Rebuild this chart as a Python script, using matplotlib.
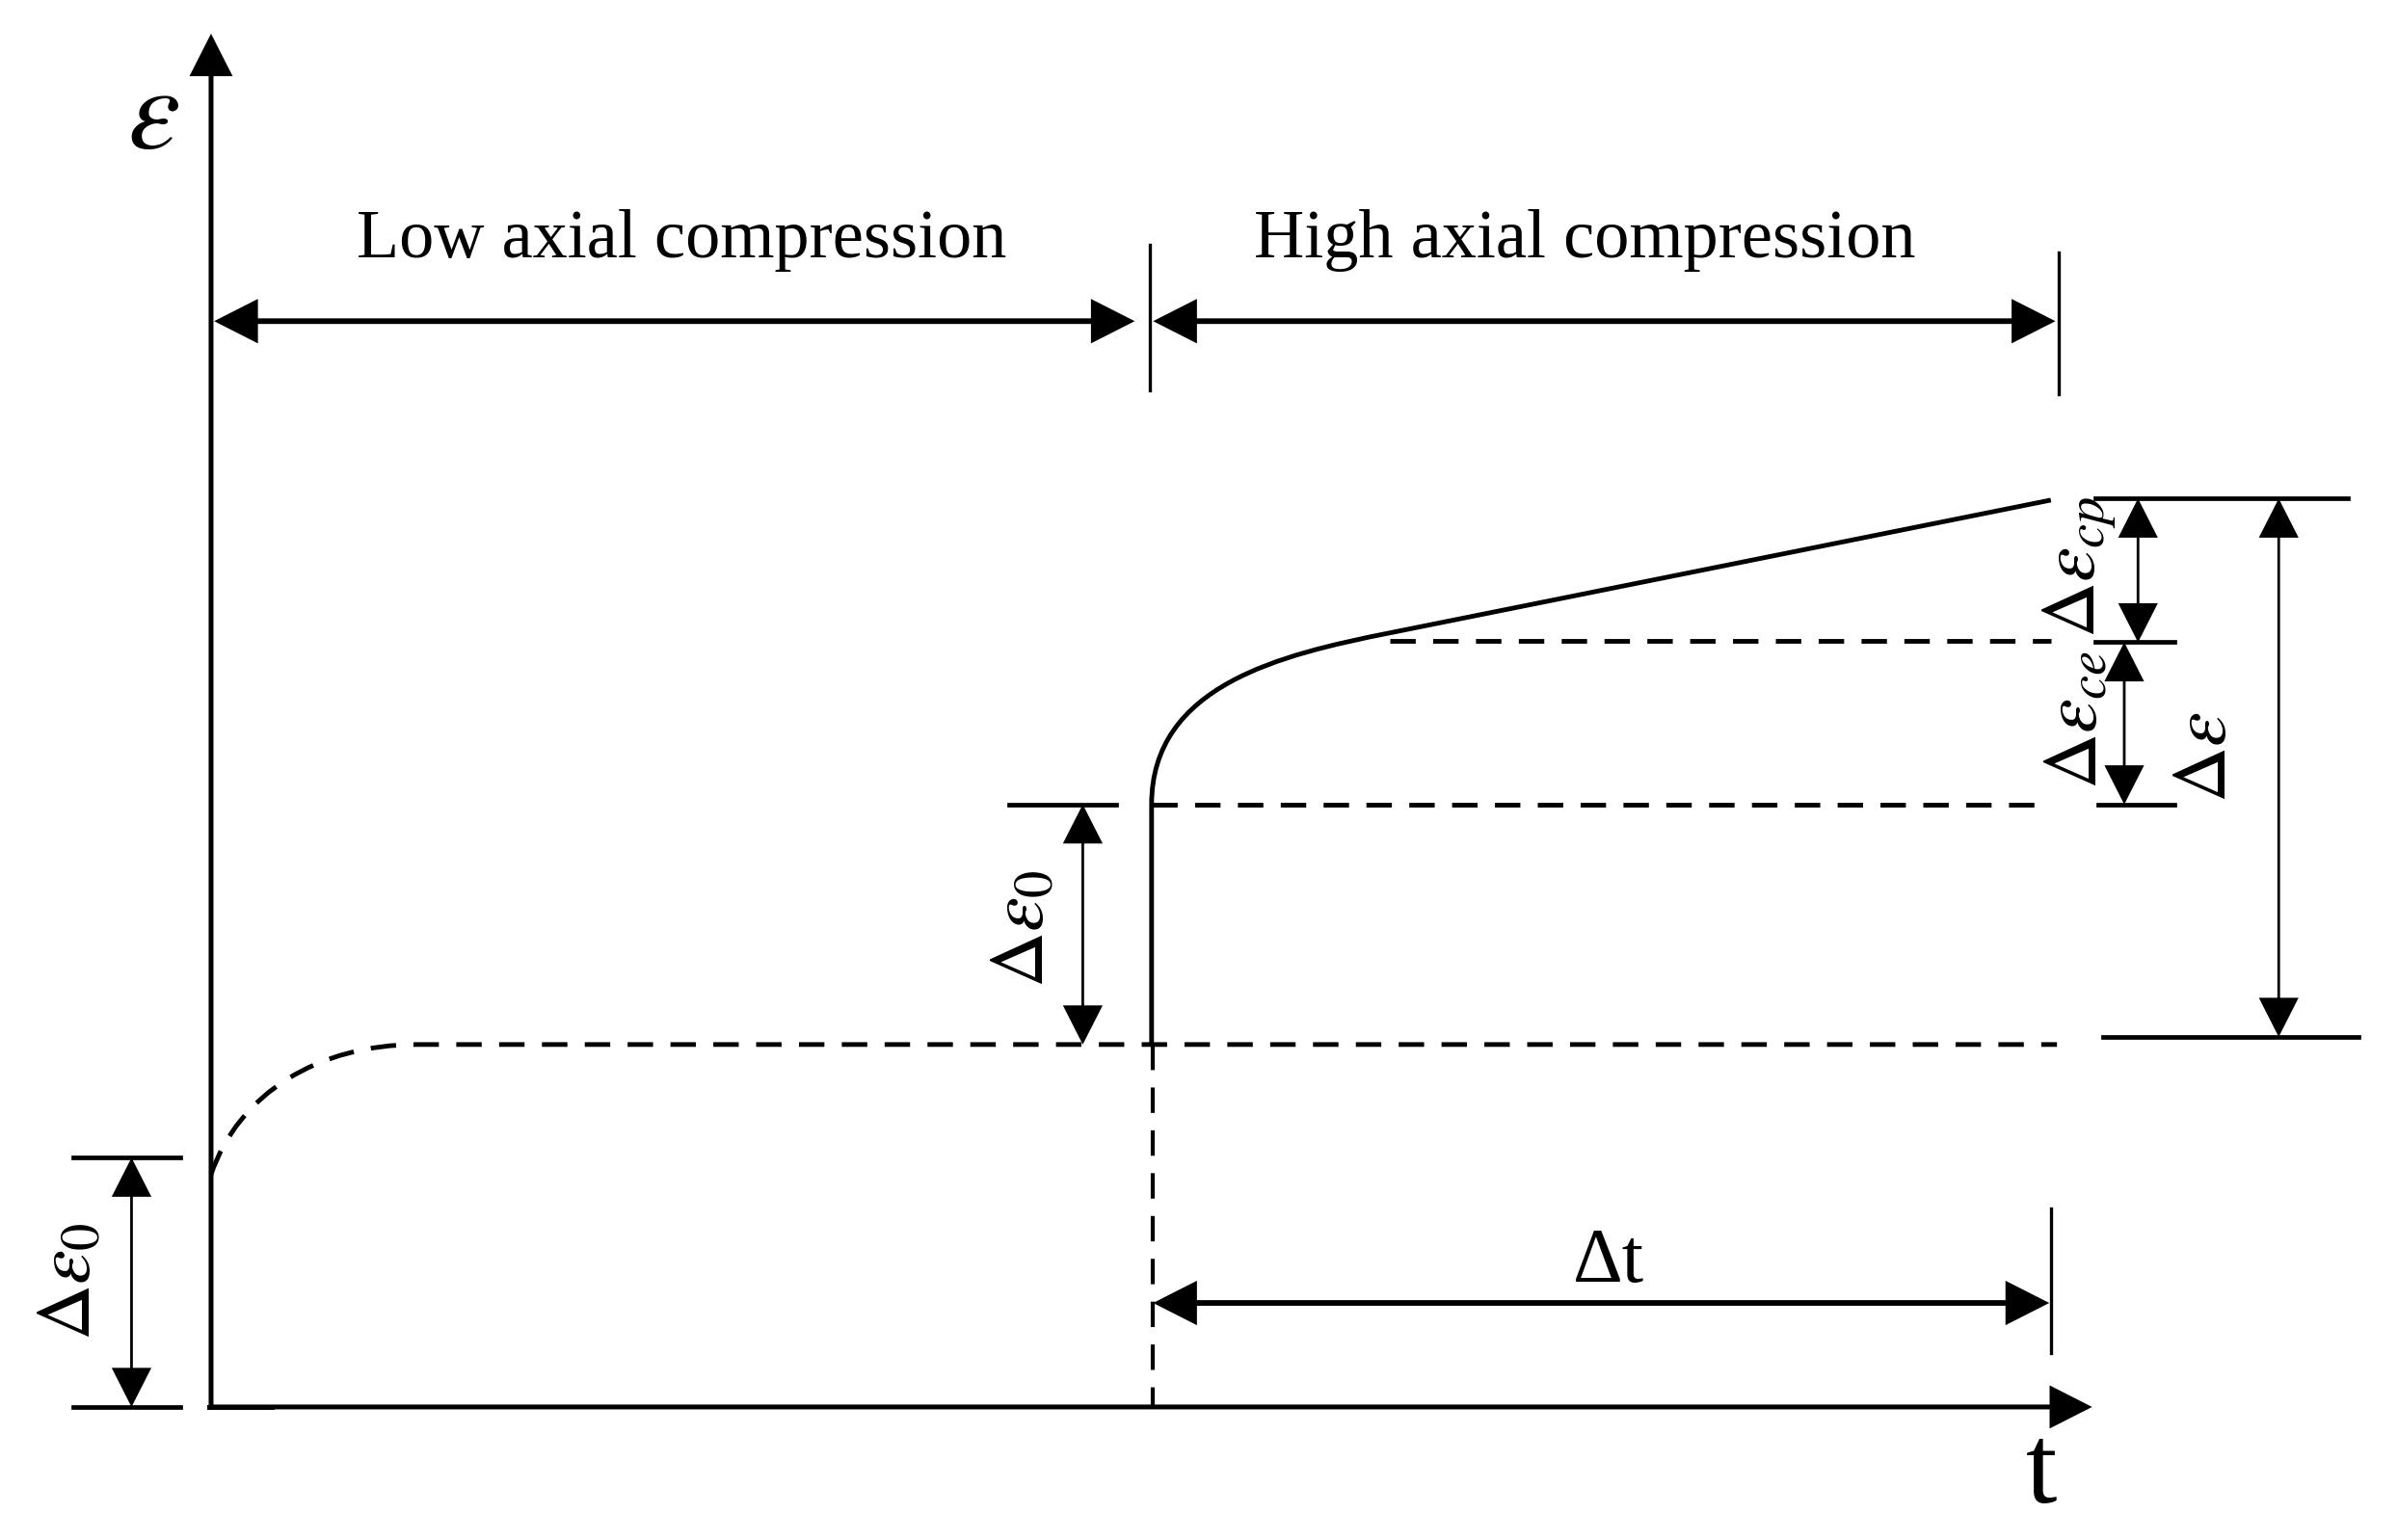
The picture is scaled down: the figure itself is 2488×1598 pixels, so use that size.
import matplotlib
matplotlib.use('Agg')
import matplotlib.pyplot as plt
from matplotlib.path import Path
from matplotlib.patches import PathPatch, FancyArrowPatch, ArrowStyle

plt.rcParams['mathtext.fontset'] = 'stix'
plt.rcParams['font.family'] = ['Liberation Serif', 'DejaVu Serif']
plt.rcParams['lines.scale_dashes'] = False

# ---------------- schematic data (t, strain units) ----------------
t_axis_end = 1230
e_axis_end = 898
t_switch = 615          # change from low to high axial compression
t_end = 1203            # end of observation
e_low_start = 152       # instantaneous strain under low compression
e_low_plateau = 237     # creep-stabilised strain (low)
e_high_start = 394      # after instantaneous increment
e_knee = 502            # end of creep elastic part
e_end = 593             # final strain

# Bezier control points of the creep curves
low_curve_t = [0, 18, 70, 135]
low_curve_e = [e_low_start, 205, e_low_plateau, e_low_plateau]
high_curve_t = [t_switch, t_switch, 700, 770]
high_curve_e = [e_high_start, 472, 492, 506]

# annotation levels
top_arrow_e = 710
top_tick_e = [665, 760]
dt_arrow_e = 68
dt_tick_e = [35, 130]
right_levels = [594, 500, 394, 242]
right_level_t0 = [1232, 1232, 1234, 1237]
right_level_t1 = [1397, 1284, 1284, 1404]
left_levels = [163, 0]

labels_low = "Low axial compression"
labels_high = "High axial compression"

# ---------------- figure ----------------
fig = plt.figure(figsize=(24.88, 15.98), dpi=100)
ax = fig.add_axes([0, 0, 1, 1])
ax.set_xlim(-138, 1430)
ax.set_ylim(-87, 920)
ax.axis('off')

K = 'black'
head = ArrowStyle('-|>', head_length=0.65, head_width=0.33)
dhead = ArrowStyle('<|-|>', head_length=0.65, head_width=0.33)


def arrow(p0, p1, lw, style=dhead, ms=40):
    a = FancyArrowPatch(p0, p1, arrowstyle=style, mutation_scale=ms, lw=lw,
                        color=K, shrinkA=0, shrinkB=0, joinstyle='miter',
                        capstyle='butt')
    ax.add_patch(a)


DASH = (0, (19, 13))

# axes
arrow((0, 0), (0, e_axis_end), 3.6, head)
arrow((0, 0), (t_axis_end, 0), 3.6, head)
ax.plot([-1, 40], [0, 0], color=K, lw=3.6, solid_capstyle='projecting')

# low compression creep curve (dashed) + plateau
verts = list(zip(low_curve_t, low_curve_e)) + [(t_end + 4, e_low_plateau)]
codes = [Path.MOVETO, Path.CURVE4, Path.CURVE4, Path.CURVE4, Path.LINETO]
ax.add_patch(PathPatch(Path(verts, codes), fill=False, lw=3.5, ls=DASH, color=K))

# high compression curve (solid)
verts = [(t_switch, e_low_plateau)] + list(zip(high_curve_t, high_curve_e)) + [(t_end, e_end)]
codes = [Path.MOVETO, Path.LINETO, Path.CURVE4, Path.CURVE4, Path.CURVE4, Path.LINETO]
ax.add_patch(PathPatch(Path(verts, codes), fill=False, lw=3.5, color=K,
                       capstyle='butt'))

# dashed reference lines
ax.plot([t_switch + 1, t_switch + 1], [e_low_plateau, 0], color=K, lw=3.0, ls=DASH)
ax.plot([t_switch, t_end], [e_high_start, e_high_start], color=K, lw=3.5, ls=DASH)
ax.plot([771, t_end], [e_knee - 1, e_knee - 1], color=K, lw=3.5, ls=DASH)

# top region arrows
arrow((2, top_arrow_e), (t_switch - 11, top_arrow_e), 4.2)
arrow((t_switch + 1, top_arrow_e), (t_end + 3, top_arrow_e), 4.2)
ax.plot([t_switch - 1, t_switch - 1], top_tick_e, color=K, lw=2.4)
ax.plot([t_end + 5, t_end + 5], [662, 755], color=K, lw=2.4)
ax.text(308, 752, labels_low, ha='center', va='baseline', fontsize=52)
ax.text(898, 752, labels_high, ha='center', va='baseline', fontsize=52)

# delta t
arrow((t_switch + 1, dt_arrow_e), (t_end - 1, dt_arrow_e), 4.2)
ax.plot([t_end, t_end], dt_tick_e, color=K, lw=2.4)
ax.text(914, 82, "Δt", ha='center', va='baseline', fontsize=58)

# left delta eps0
for lv in left_levels:
    ax.plot([-90, -20], [lv, lv], color=K, lw=3.4)
arrow((-52, left_levels[1]), (-52, left_levels[0]), 2.0)
ax.text(-91, 82, r'$\Delta\varepsilon_0$', rotation=90, ha='center',
        va='center', fontsize=58)

# middle delta eps0
ax.plot([522, 592], [e_high_start, e_high_start], color=K, lw=3.4)
arrow((570, e_low_plateau), (570, e_high_start), 2.0)
ax.text(532, 313, r'$\Delta\varepsilon_0$', rotation=90, ha='center',
        va='center', fontsize=58)

# right side
for lv, a0, a1 in zip(right_levels, right_level_t0, right_level_t1):
    ax.plot([a0, a1], [lv, lv], color=K, lw=3.4)
arrow((1260, right_levels[1]), (1260, right_levels[0]), 2.0)
arrow((1251, right_levels[2]), (1251, right_levels[1]), 2.0)
arrow((1352, right_levels[3]), (1352, right_levels[0]), 2.0)
ax.text(1222, 549, r'$\Delta\varepsilon_{cp}$', rotation=90, ha='center',
        va='center', fontsize=58)
ax.text(1221, 449, r'$\Delta\varepsilon_{ce}$', rotation=90, ha='center',
        va='center', fontsize=58)
ax.text(1305, 425, r'$\Delta\varepsilon$', rotation=90, ha='center',
        va='center', fontsize=58)

# axis labels
ax.text(-38, 842, r'$\varepsilon$', ha='center', va='center', fontsize=88)
ax.text(1197, -45, 't', ha='center', va='center', fontsize=84)

fig.savefig('out.png', dpi=100)
